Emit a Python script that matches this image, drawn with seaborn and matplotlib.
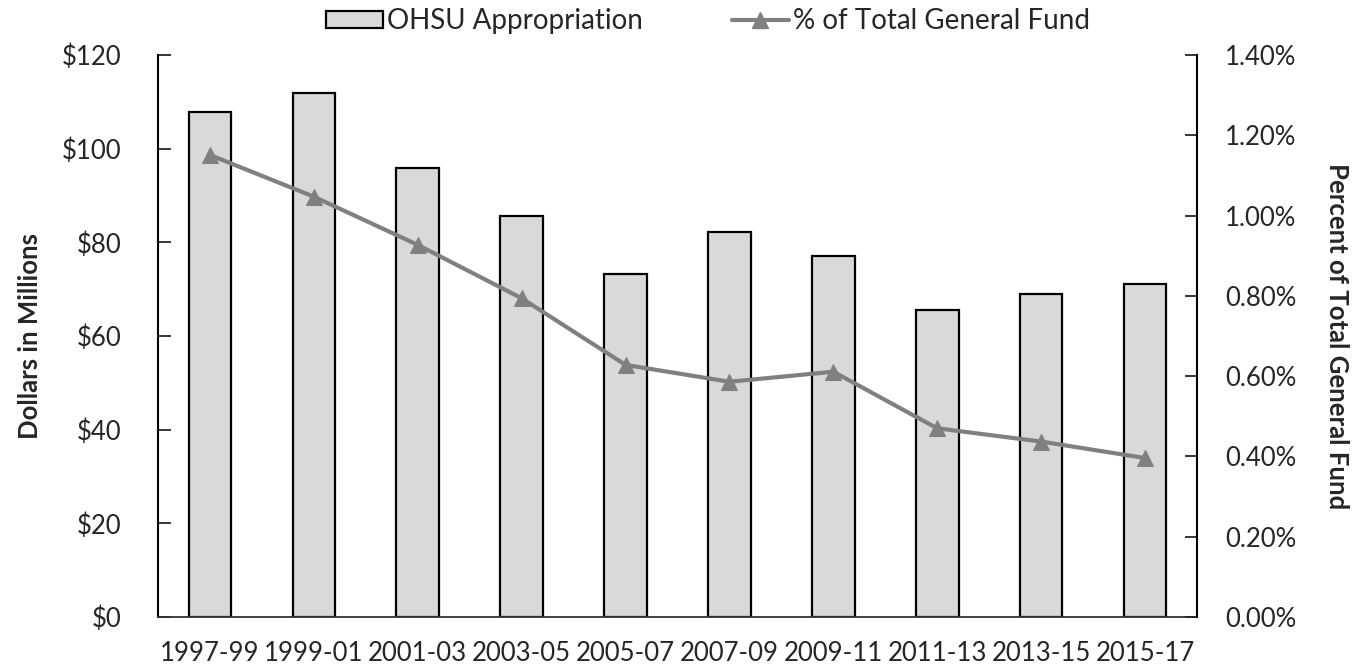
import matplotlib
matplotlib.use("Agg")
import matplotlib.pyplot as plt
import seaborn as sns
import pandas as pd
from matplotlib.ticker import FuncFormatter
from matplotlib.patches import Patch
from matplotlib.lines import Line2D

periods = ["1997-99", "1999-01", "2001-03", "2003-05", "2005-07",
           "2007-09", "2009-11", "2011-13", "2013-15", "2015-17"]
appropriation = [107.8, 111.8, 95.9, 85.7, 73.2, 82.1, 77.1, 65.6, 68.9, 71.0]
pct_general_fund = [1.151, 1.047, 0.927, 0.794, 0.628, 0.586, 0.611, 0.470, 0.437, 0.396]

df = pd.DataFrame({"period": periods, "approp": appropriation, "pct": pct_general_fund})

sns.set_style("white")
plt.rcParams["font.family"] = ["Lato", "DejaVu Sans"]

FS = 18.5
fig = plt.figure(figsize=(13.64, 6.65), dpi=100)
ax = fig.add_axes([158/1364, 1-617/665, (1197-158)/1364, (617-55)/665])

sns.barplot(data=df, x="period", y="approp", ax=ax, color="#d9d9d9",
            edgecolor="black", linewidth=1.6, width=0.41, saturation=1)
ax.set_ylim(0, 120)
ax.set_yticks(range(0, 121, 20))
ax.yaxis.set_major_formatter(FuncFormatter(lambda v, p: f"${v:.0f}"))
ax.set_xlim(-0.5, len(periods) - 0.5)
ax.set_xlabel("")
ax.set_ylabel("Dollars in Millions", fontsize=FS, fontweight="bold", labelpad=14)
ax.tick_params(axis="y", direction="in", length=9, width=1.3, labelsize=FS, pad=26.5)
ax.tick_params(axis="x", length=0, labelsize=FS, pad=17)
for s in ["top", "right"]:
    ax.spines[s].set_visible(False)
ax.spines["left"].set_linewidth(1.5)
ax.spines["left"].set_color("black")
ax.spines["bottom"].set_linewidth(1.3)
ax.spines["bottom"].set_color("#333333")

ax2 = ax.twinx()
sns.lineplot(x=list(range(len(periods))), y=df["pct"].tolist(), ax=ax2, color="#808080",
             linewidth=3, marker="^", markersize=11, markeredgecolor="#808080")
ax2.set_ylim(0, 1.4)
ax2.set_yticks([0, 0.2, 0.4, 0.6, 0.8, 1.0, 1.2, 1.4])
ax2.yaxis.set_major_formatter(FuncFormatter(lambda v, p: f"{v:.2f}%"))
ax2.tick_params(axis="y", direction="in", length=9, width=1.3, labelsize=FS, pad=20)
ax2.set_ylabel("Percent of Total General Fund", fontsize=FS, fontweight="bold",
               rotation=270, labelpad=38)
for s in ["top", "left", "bottom"]:
    ax2.spines[s].set_visible(False)
ax2.spines["right"].set_linewidth(1.5)
ax2.spines["right"].set_color("black")
ax2.set_xlim(-0.5, len(periods) - 0.5)

handles = [Patch(facecolor="#d9d9d9", edgecolor="black", linewidth=1.6),
           Line2D([0], [0], color="#808080", linewidth=3, marker="^", markersize=11)]
fig.legend(handles, ["OHSU Appropriation", "% of Total General Fund"],
           loc="upper center", bbox_to_anchor=(0.519, 1.025), ncol=2, frameon=False,
           fontsize=20, columnspacing=3.2, handlelength=2.05, handleheight=0.55,
           handletextpad=0.15)

fig.savefig("out.png", dpi=100)
